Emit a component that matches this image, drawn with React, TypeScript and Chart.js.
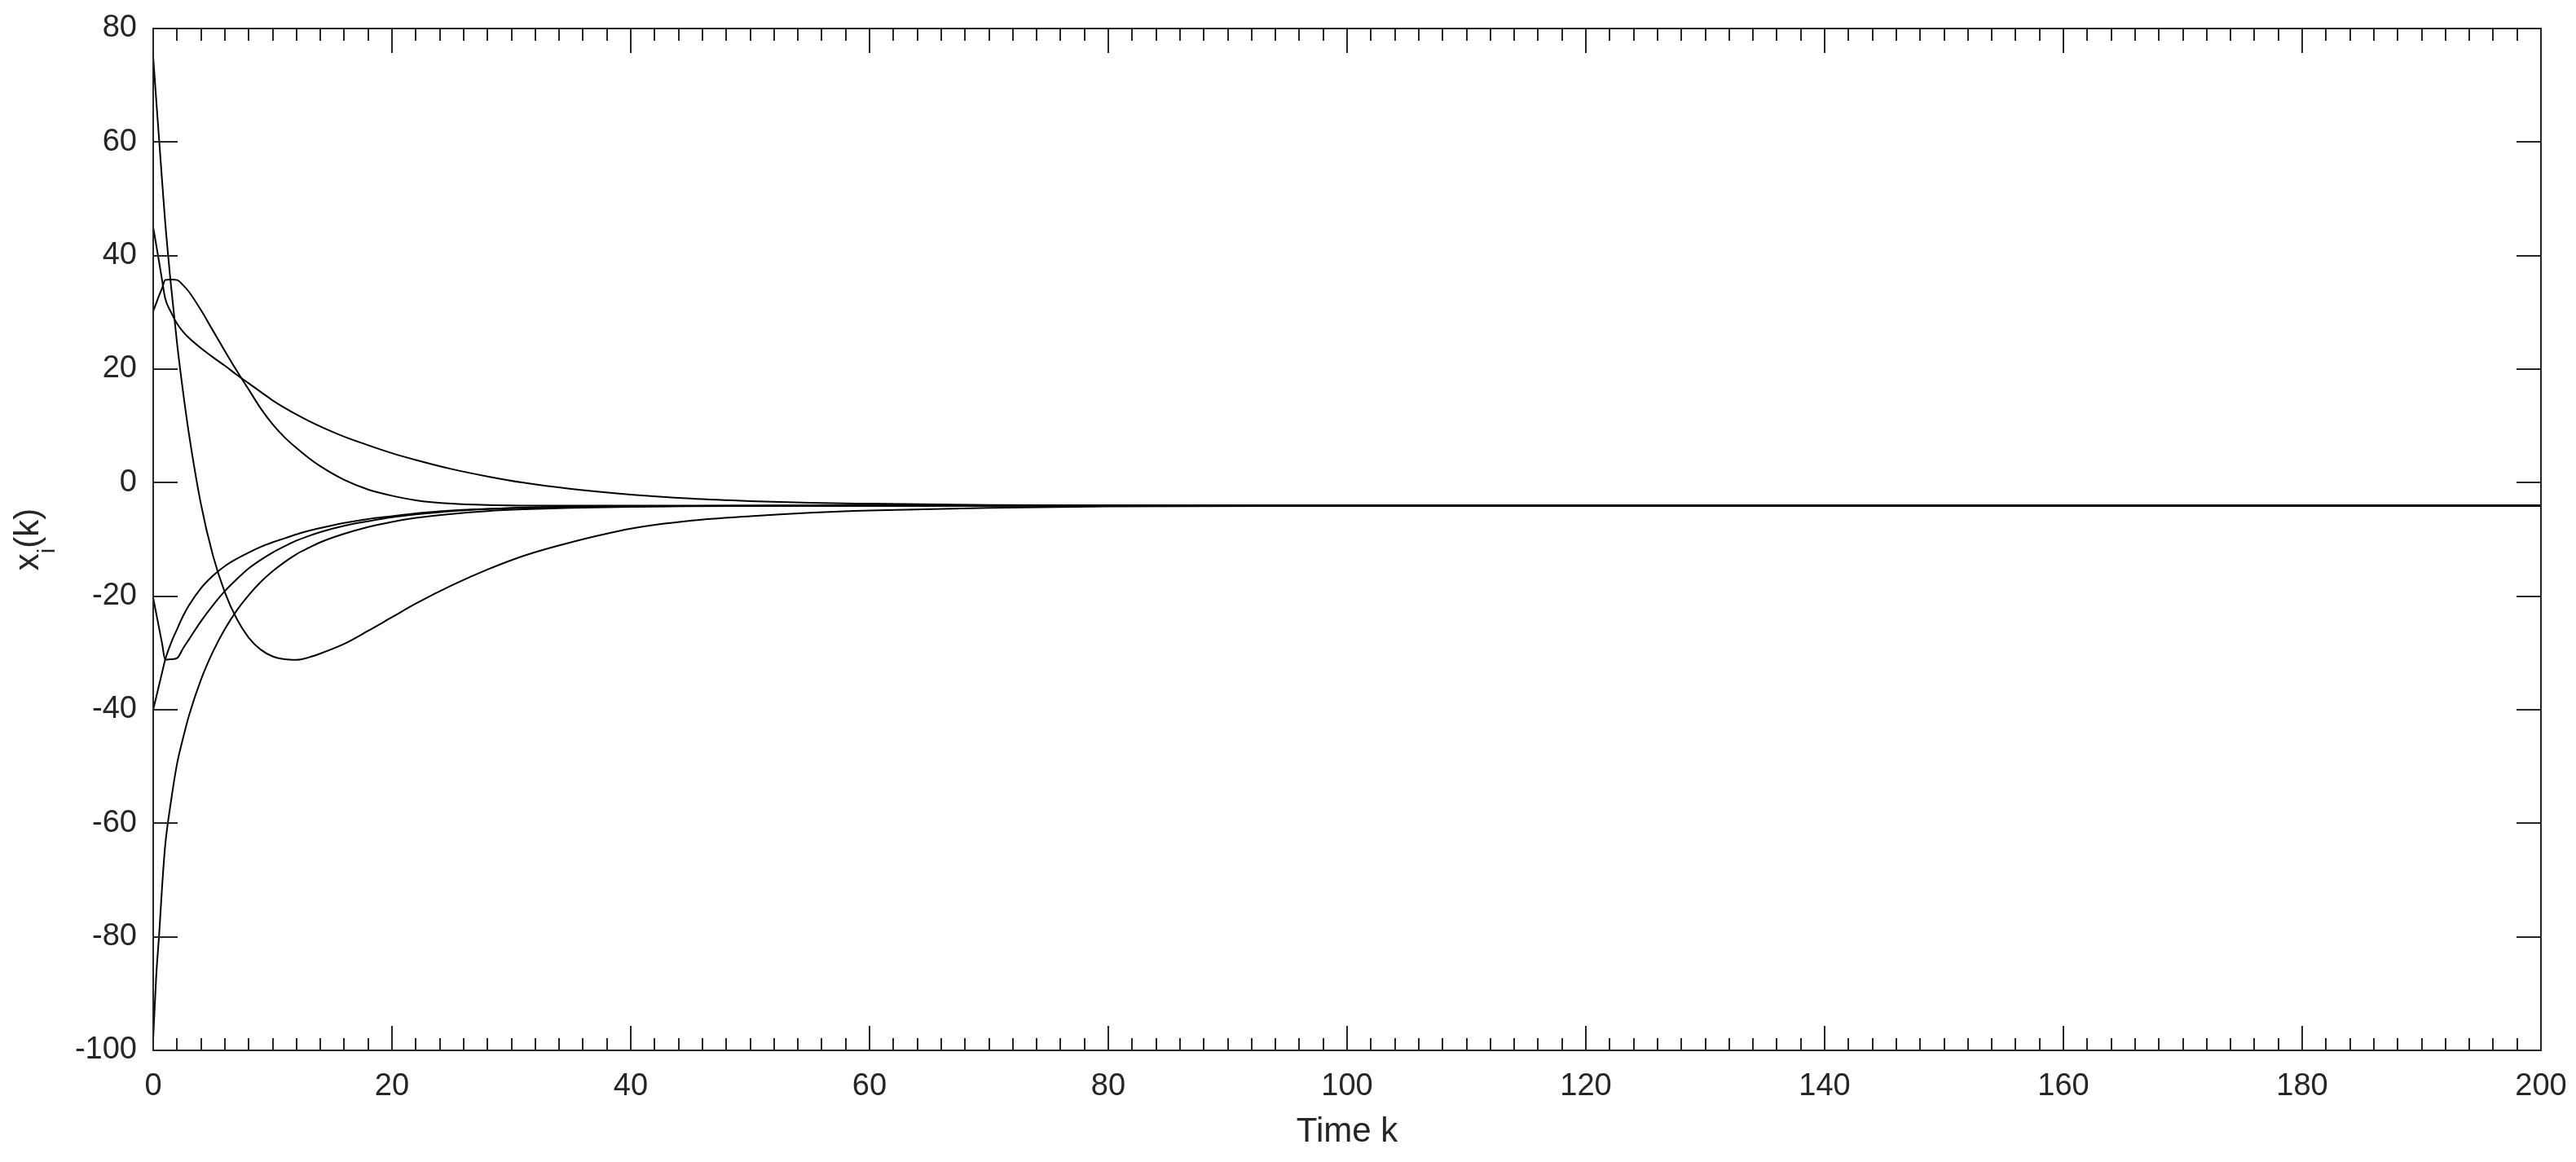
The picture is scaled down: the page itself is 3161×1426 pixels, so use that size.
import React, { useEffect, useRef } from 'react';
import { Chart, registerables } from 'chart.js';

Chart.register(...registerables);

// Time steps k
const K = [0, 0.25, 0.5, 0.75, 1, 1.5, 2, 2.5, 3, 4, 5, 6, 7, 8, 9, 10, 11, 12, 13, 14, 16, 18, 20, 22, 25, 28, 31, 35, 40, 45, 50, 55, 60, 70, 80, 100, 130, 200];

// Agent states x_i(k)
const X1 = [75, 67.5, 60.3, 53, 46, 34.5, 24.5, 16.0, 8.5, -3.8, -12.8, -19.3, -24, -27.3, -29.4, -30.6, -31.1, -31.2, -30.8, -30.1, -28.4, -26.1, -23.7, -21.3, -18.1, -15.3, -12.9, -10.5, -8.1, -6.7, -5.9, -5.3, -4.9, -4.45, -4.2, -4.07, -4.05, -4.05];
const X2 = [45, 41.9, 38.8, 35.6, 32.5, 30.0, 28.0, 26.6, 25.5, 23.7, 22.1, 20.6, 19.0, 17.5, 16.0, 14.5, 13.2, 12.0, 10.9, 9.9, 8.1, 6.6, 5.2, 4.0, 2.4, 1.1, 0.0, -1.1, -2.1, -2.8, -3.25, -3.55, -3.7, -3.93, -4.02, -4.05, -4.05, -4.05];
const X3 = [30.2, 31.6, 33.0, 34.3, 35.7, 35.8, 35.7, 34.8, 33.6, 30.4, 26.8, 23.2, 19.7, 16.4, 13.1, 10.3, 8.0, 6.1, 4.4, 2.9, 0.5, -1.2, -2.3, -3.1, -3.7, -3.95, -4.03, -4.05, -4.05, -4.05, -4.05, -4.05, -4.05, -4.05, -4.05, -4.05, -4.05, -4.05];
const X4 = [-20.3, -23.0, -25.7, -28.4, -31.2, -31.1, -30.9, -29.2, -27.6, -24.4, -21.6, -19.1, -17.0, -15.1, -13.6, -12.3, -11.2, -10.2, -9.4, -8.7, -7.6, -6.8, -6.1, -5.6, -5.0, -4.65, -4.4, -4.25, -4.15, -4.1, -4.07, -4.05, -4.05, -4.05, -4.05, -4.05, -4.05, -4.05];
const X5 = [-40, -37.8, -35.6, -33.4, -31.2, -28.2, -25.8, -23.5, -21.6, -18.6, -16.4, -14.7, -13.4, -12.3, -11.3, -10.5, -9.8, -9.1, -8.5, -8.0, -7.1, -6.4, -5.9, -5.4, -4.9, -4.6, -4.4, -4.25, -4.15, -4.1, -4.07, -4.05, -4.05, -4.05, -4.05, -4.05, -4.05, -4.05];
const X6 = [-98, -87, -79.5, -71, -64, -56, -49.5, -45, -41, -34.7, -29.8, -25.8, -22.5, -19.8, -17.5, -15.6, -14.0, -12.6, -11.5, -10.5, -9.0, -7.8, -6.9, -6.2, -5.5, -5.0, -4.7, -4.45, -4.25, -4.15, -4.1, -4.07, -4.05, -4.05, -4.05, -4.05, -4.05, -4.05];

const SERIES = [X1, X2, X3, X4, X5, X6];

const X_TICKS = [0, 20, 40, 60, 80, 100, 120, 140, 160, 180, 200];
const X_MINOR_STEP = 2;
const Y_TICKS = [-100, -80, -60, -40, -20, 0, 20, 40, 60, 80];

const X_TITLE = 'Time k';
const Y_TITLE_MAIN = 'x';
const Y_TITLE_SUB = 'i';
const Y_TITLE_REST = '(k)';

const AXIS_COLOR = '#262626';
const FONT = '"Liberation Sans", Arial, Helvetica, sans-serif';
const TICK_SIZE = 38;
const LABEL_SIZE = 42;

const framePlugin = {
  id: 'matlabFrame',
  afterDatasetsDraw(chart: any) {
    const { ctx, chartArea: a, scales } = chart;
    const xs = scales.x;
    const ys = scales.y;
    ctx.save();
    ctx.strokeStyle = AXIS_COLOR;
    ctx.lineWidth = 2;
    ctx.beginPath();
    for (let k = xs.min; k <= xs.max + 1e-9; k += X_MINOR_STEP) {
      if (k === xs.min || k === xs.max) continue;
      const px = Math.round(xs.getPixelForValue(k));
      const len = X_TICKS.includes(k) ? 30 : 15;
      ctx.moveTo(px, a.bottom);
      ctx.lineTo(px, a.bottom - len);
      ctx.moveTo(px, a.top);
      ctx.lineTo(px, a.top + len);
    }
    Y_TICKS.forEach((v) => {
      if (v === ys.min || v === ys.max) return;
      const py = Math.round(ys.getPixelForValue(v));
      ctx.moveTo(a.left, py);
      ctx.lineTo(a.left + 30, py);
      ctx.moveTo(a.right, py);
      ctx.lineTo(a.right - 30, py);
    });
    ctx.stroke();
    ctx.strokeRect(a.left, a.top, a.right - a.left, a.bottom - a.top);

    // x title
    ctx.fillStyle = AXIS_COLOR;
    ctx.font = `${LABEL_SIZE}px ${FONT}`;
    ctx.textAlign = 'center';
    ctx.textBaseline = 'alphabetic';
    ctx.fillText(X_TITLE, (a.left + a.right) / 2, 1401);

    // y title with subscript, rotated
    const subSize = 29;
    ctx.font = `${LABEL_SIZE}px ${FONT}`;
    const w1 = ctx.measureText(Y_TITLE_MAIN).width;
    const w3 = ctx.measureText(Y_TITLE_REST).width;
    ctx.font = `${subSize}px ${FONT}`;
    const w2 = ctx.measureText(Y_TITLE_SUB).width;
    const total = w1 + w2 + w3;
    ctx.translate(47, (a.top + a.bottom) / 2);
    ctx.rotate(-Math.PI / 2);
    ctx.textAlign = 'left';
    let x0 = -total / 2;
    ctx.font = `${LABEL_SIZE}px ${FONT}`;
    ctx.fillText(Y_TITLE_MAIN, x0, 0);
    x0 += w1;
    ctx.font = `${subSize}px ${FONT}`;
    ctx.fillText(Y_TITLE_SUB, x0, 20);
    x0 += w2;
    ctx.font = `${LABEL_SIZE}px ${FONT}`;
    ctx.fillText(Y_TITLE_REST, x0, 0);
    ctx.restore();
  },
};

export default function App() {
  const ref = useRef<HTMLCanvasElement | null>(null);

  useEffect(() => {
    document.body.style.margin = '0';
    document.body.style.overflow = 'hidden';
    const canvas = ref.current;
    if (!canvas) return;
    const chart = new Chart(canvas, {
      type: 'line',
      data: {
        datasets: SERIES.map((vals, i) => ({
          label: `x${i + 1}`,
          data: K.map((k, j) => ({ x: k, y: vals[j] })),
          borderColor: '#000000',
          borderWidth: 2,
          pointRadius: 0,
          fill: false,
          cubicInterpolationMode: 'monotone' as const,
        })),
      },
      options: {
        responsive: false,
        animation: false,
        devicePixelRatio: 1,
        layout: { padding: { top: 35, right: 43, left: 0, bottom: 0 } },
        plugins: {
          legend: { display: false },
          tooltip: { enabled: false },
        },
        scales: {
          x: {
            type: 'linear',
            min: 0,
            max: 200,
            afterFit: (s: any) => {
              s.height = 137;
              s.paddingLeft = 0;
              s.paddingRight = 0;
              s.paddingTop = 0;
              s.paddingBottom = 0;
            },
            afterBuildTicks: (s: any) => {
              s.ticks = X_TICKS.map((v) => ({ value: v }));
            },
            grid: { display: false, drawTicks: false },
            border: { display: false },
            ticks: {
              color: AXIS_COLOR,
              font: { family: FONT, size: TICK_SIZE },
              padding: 22,
              maxRotation: 0,
              autoSkip: false,
            },
          },
          y: {
            type: 'linear',
            min: -100,
            max: 80,
            afterFit: (s: any) => {
              s.width = 188;
              s.paddingLeft = 0;
              s.paddingRight = 0;
              s.paddingTop = 0;
              s.paddingBottom = 0;
            },
            afterBuildTicks: (s: any) => {
              s.ticks = Y_TICKS.map((v) => ({ value: v }));
            },
            grid: { display: false, drawTicks: false },
            border: { display: false },
            ticks: {
              color: AXIS_COLOR,
              font: { family: FONT, size: TICK_SIZE },
              padding: 20,
              autoSkip: false,
            },
          },
        },
      },
      plugins: [framePlugin],
    });
    return () => chart.destroy();
  }, []);

  return (
    <div style={{ width: 3161, height: 1426, background: '#fff' }}>
      <canvas ref={ref} width={3161} height={1426} style={{ display: 'block', width: 3161, height: 1426 }} />
    </div>
  );
}
